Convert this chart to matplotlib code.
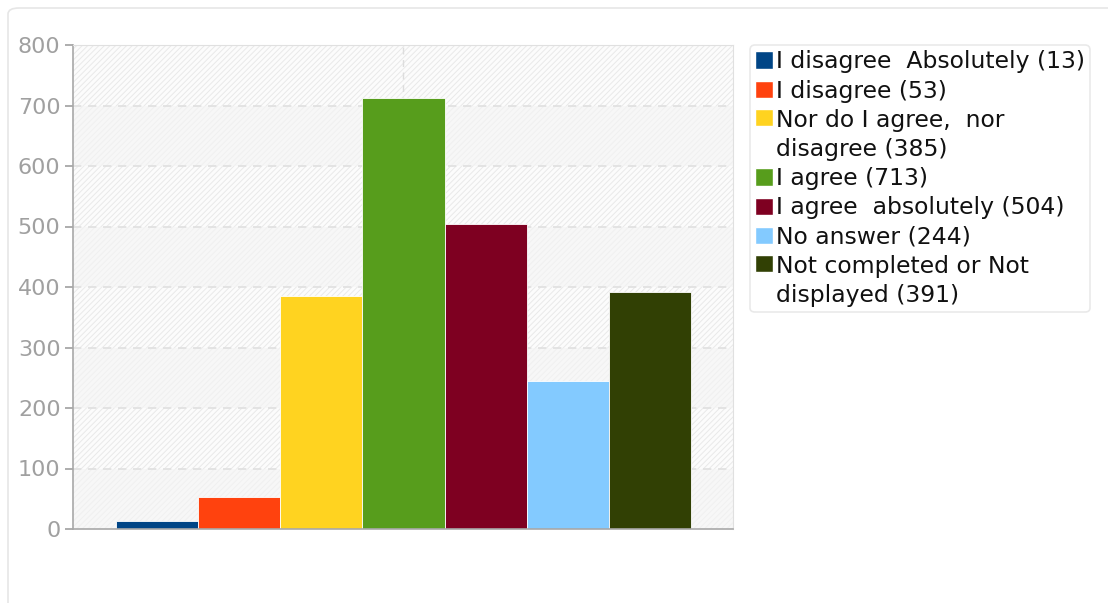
import matplotlib
matplotlib.use("Agg")
import matplotlib.pyplot as plt
from matplotlib.patches import FancyBboxPatch, Rectangle
from matplotlib.legend_handler import HandlerPatch

labels = [
    "I disagree  Absolutely (13)",
    "I disagree (53)",
    "Nor do I agree,  nor\ndisagree (385)",
    "I agree (713)",
    "I agree  absolutely (504)",
    "No answer (244)",
    "Not completed or Not\ndisplayed (391)",
]
values = [13, 53, 385, 713, 504, 244, 391]
colors = ["#004586", "#ff420e", "#ffd320", "#579d1c", "#7e0021", "#83caff", "#314004"]
yticks = [0, 100, 200, 300, 400, 500, 600, 700, 800]

plt.rcParams['font.family'] = ['DejaVu Sans']
plt.rcParams['hatch.linewidth'] = 0.7

W, H = 1108, 603
fig = plt.figure(figsize=(W / 100, H / 100), dpi=100)

# outer rounded frame, behind everything
frame = FancyBboxPatch((8 / W, -0.05), 1.2, 1.05 - 8 / H,
                       boxstyle="round,pad=0,rounding_size=0.01",
                       transform=fig.transFigure, facecolor="white",
                       edgecolor="#e6e6e6", linewidth=1.2, zorder=-10)
fig.patches.append(frame)

ax = fig.add_axes([73 / W, 1 - 529 / H, (733 - 73) / W, (529 - 45) / H])
ax.set_zorder(1)
ax.set_facecolor("white")

# alternating background bands
for lo in yticks[:-1]:
    hi = lo + 100
    if (lo // 100) % 2 == 1:
        ax.axhspan(lo, hi, facecolor="#fcfcfc", edgecolor="#e9e9e9",
                   hatch="//////", linewidth=0, zorder=0)
    else:
        ax.axhspan(lo, hi, facecolor="#f7f7f7", edgecolor="#f0f0f0",
                   hatch="//////", linewidth=0, zorder=0)

for y in yticks[1:-1]:
    ax.axhline(y, color="#e0e0e0", linestyle=(0, (5, 4)), linewidth=1.2, zorder=1)
ax.axvline(3, color="#dddddd", linestyle=(0, (5, 4)), linewidth=1, zorder=1)

xs = list(range(len(values)))
ax.bar(xs, values, width=1.0, color=colors, edgecolor="white",
       linewidth=0.6, zorder=2)

ax.set_xlim(-1.02, 7.01)
ax.set_ylim(0, 800)
ax.set_yticks(yticks)
ax.set_xticks([])
ax.tick_params(axis="y", colors="#a0a0a0", labelsize=16, length=6, width=1.2,
               labelcolor="#a0a0a0", pad=3)
for side in ["left", "bottom"]:
    ax.spines[side].set_color("#a8a8a8")
    ax.spines[side].set_linewidth(1.2)
for side in ["top", "right"]:
    ax.spines[side].set_color("#e0e0e0")

# legend: square sits on the first line of a wrapped label
fs = 16.9
line_sp = 1.33
shift_pt = 0.5 * fs * line_sp * 1.17


def square_at(shift):
    def make(legend, orig_handle, xdescent, ydescent, width, height, fontsize):
        return Rectangle((-xdescent, -ydescent + shift), width, height)
    return make


handles = [Rectangle((0, 0), 1, 1, facecolor=c, edgecolor="white") for c in colors]
hmap = {}
for h, lab in zip(handles, labels):
    s = shift_pt if "\n" in lab else 0
    hmap[h] = HandlerPatch(patch_func=square_at(s))

leg = fig.legend(handles, labels, loc="upper left",
                 bbox_to_anchor=(750 / W, 1 - 45 / H),
                 fontsize=fs, frameon=True, fancybox=True, shadow=False,
                 handlelength=0.75, handleheight=0.75, handletextpad=0.12,
                 labelspacing=0.27, borderpad=0.22, borderaxespad=0,
                 handler_map=hmap)
leg.get_frame().set_edgecolor("#e4e4e4")
leg.get_frame().set_linewidth(1.2)
for t in leg.get_texts():
    t.set_color("#111111")
    t.set_linespacing(line_sp)

fig.savefig("out.png", dpi=100)
